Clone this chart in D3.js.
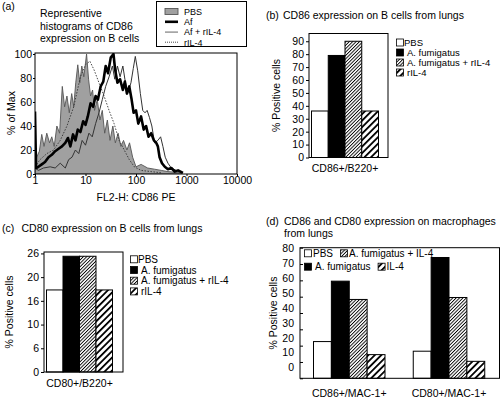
<!DOCTYPE html>
<html><head><meta charset="utf-8">
<script src="https://cdn.jsdelivr.net/npm/d3@7"></script>
<style>
html,body{margin:0;padding:0;background:#fff;}
svg{display:block;}
svg text{font-family:"Liberation Sans",Arial,Helvetica,sans-serif;}
</style></head><body>
<svg id="fig" width="501" height="400"></svg>
<script>
// ---------- Panel (a) data: [FL2-H intensity, % of Max] ----------
const histNames = ["PBS", "Af", "Af + rIL-4", "rIL-4"];
const histPBS = [[1,3],[1.08,14],[1.22,19],[1.36,33],[1.51,23],[1.71,34],[1.94,26],[2.15,31],[2.4,23],[2.71,40],[3.07,34],[3.47,73],[3.86,56],[4.29,65],[4.78,51],[5.33,67],[5.84,56],[6.41,76],[7.03,91],[7.7,76],[8.45,90],[9.26,81],[10.5,100],[11.5,79],[12.6,65],[13.8,70],[15.1,53],[17.1,62],[19.3,45],[21.5,53],[24,34],[27.1,45],[30.6,28],[34.8,40],[39,26],[44.2,34],[50.1,23],[56.6,28],[66.1,20],[74.5,26],[85.8,14],[100,6],[126,8],[170,5],[233,4],[316,3],[429,2],[794,1]];
const histAf = [[1,52],[1.05,5],[1.17,6],[1.36,8],[1.58,10],[1.85,14],[2.15,16],[2.51,19],[2.93,21],[3.42,23],[3.98,26],[4.5,30],[5.01,23],[5.67,33],[6.31,28],[7.03,37],[7.94,35],[8.98,44],[10,41],[11.1,48],[12.6,59],[14.2,56],[15.85,65],[17.6,62],[19.95,73],[22.5,77],[25.1,90],[27.9,84],[31.6,97],[35.8,100],[38.6,87],[42.9,76],[48.4,79],[54.9,70],[60.3,77],[66.1,67],[73.6,73],[81.9,62],[89.7,51],[100,53],[111,42],[126,48],[142,37],[158.5,40],[177,31],[200,34],[226,28],[251,26],[271,23],[293,14],[327,9],[372,6],[429,4],[501,5],[584,2],[681,3],[851,1]];
const histAfIL4 = [[1,5],[1.17,3],[1.47,5],[2,6],[2.51,5],[3.16,9],[3.98,5],[4.64,12],[5.41,14],[6.31,20],[7.36,17],[8.58,28],[10,24],[11.7,34],[13.6,31],[15.85,42],[18.5,51],[21.5,62],[25.1,73],[29.3,81],[34.1,90],[38,79],[42.9,90],[48.4,81],[54.9,90],[60.3,79],[68.1,67],[79.4,76],[88.4,88],[96.9,98],[108,86],[122,67],[136,53],[151,51],[166,53],[185,47],[206,40],[233,26],[271,28],[307,31],[341,23],[379,14],[429,9],[501,5],[631,3],[851,1]];
const histIL4 = [[1,6],[1.26,12],[1.71,17],[2.33,20],[3.16,28],[4.29,40],[5.84,56],[7.94,81],[10,91],[12.2,94],[14.7,87],[18.5,76],[23.3,65],[29.3,53],[36.8,42],[46.4,28],[58.5,20],[73.6,12],[92.6,6],[126,3],[200,2],[316,1]];
const histXTicks = [1, 10, 100, 1000, 10000];
const histYTicks = [0, 20, 40, 60, 80, 100];

// ---------- Panels (b), (c) ----------
const bcGroups = ["PBS", "A. fumigatus", "A. fumigatus + rIL-4", "rIL-4"];
const panelBCategories = ["CD86+/B220+"];
const panelBValues = [36, 79, 90, 36];
const panelBTicks = [0, 10, 20, 30, 40, 50, 60, 70, 80, 90];
const panelCCategories = ["CD80+/B220+"];
const panelCValues = [17.3, 24.4, 24.4, 17.3];
const panelCTickValues = [0, 5, 10, 15, 20, 25];
const panelCTickLabels = ["0", "6", "10", "16", "20", "26"];

// ---------- Panel (d) ----------
const dGroups = ["PBS", "A. fumigatus", "A. fumigatus + IL-4", "IL-4"];
const panelDCategories = ["CD86+/MAC-1+", "CD80+/MAC-1+"];
const panelDPBS = [22.5, 16.6];
const panelDAf = [59.5, 74];
const panelDAfIL4 = [48.3, 49.5];
const panelDIL4 = [14.5, 10.4];
const panelDTicks = [0, 10, 20, 30, 40, 50, 60, 70, 80];

const FS = 10.5;
const FONT = '"Liberation Sans", Arial, Helvetica, sans-serif';
const svg = d3.select("#fig");
const defs = svg.append("defs");
function hatch(id, w, sw) {
  const p = defs.append("pattern").attr("id", id).attr("patternUnits", "userSpaceOnUse")
    .attr("width", w).attr("height", w).attr("patternTransform", "rotate(45)");
  p.append("rect").attr("width", w).attr("height", w).attr("fill", "#fff");
  p.append("rect").attr("x", 0).attr("y", 0).attr("width", sw).attr("height", w).attr("fill", "#000");
}
hatch("hatchFine", 2.4, 0.9);
hatch("hatchWide", 4.6, 1.8);
const fills = ["#fff", "#000", "url(#hatchFine)", "url(#hatchWide)"];

function txt(x, y, s, opts = {}) {
  const t = svg.append("text").attr("x", x).attr("y", y).text(s)
    .attr("font-family", FONT).attr("font-size", opts.size || FS).attr("fill", "#000");
  if (opts.anchor) t.attr("text-anchor", opts.anchor);
  if (opts.rotate) t.attr("transform", `rotate(-90,${x},${y})`);
  return t;
}

// ================= Panel (a) =================
const aBox = {left: 35, right: 237, top: 53, bottom: 174};
const xA = d3.scaleLog().domain([1, 10000]).range([aBox.left, aBox.right]);
const yA = d3.scaleLinear().domain([0, 100]).range([aBox.bottom, aBox.top + 1]);
defs.append("clipPath").attr("id", "clipA").append("rect")
  .attr("x", aBox.left).attr("y", aBox.top).attr("width", aBox.right - aBox.left).attr("height", aBox.bottom - aBox.top);
const gA = svg.append("g").attr("clip-path", "url(#clipA)");
gA.append("path").datum(histPBS)
  .attr("d", d3.area().x(d => xA(d[0])).y0(yA(0)).y1(d => yA(d[1])))
  .attr("fill", "#a0a0a0").attr("stroke", "#555").attr("stroke-width", 0.9);
const lineA = d3.line().x(d => xA(d[0])).y(d => yA(d[1]));
gA.append("path").datum(histIL4).attr("d", lineA).attr("fill", "none")
  .attr("stroke", "#333").attr("stroke-width", 0.9).attr("stroke-dasharray", "1.5,1.5");
gA.append("path").datum(histAfIL4).attr("d", lineA).attr("fill", "none")
  .attr("stroke", "#333").attr("stroke-width", 1);
gA.append("path").datum(histAf).attr("d", lineA).attr("fill", "none")
  .attr("stroke", "#000").attr("stroke-width", 2.6).attr("stroke-linejoin", "round");
svg.append("rect").attr("x", aBox.left).attr("y", aBox.top).attr("width", aBox.right - aBox.left)
  .attr("height", aBox.bottom - aBox.top).attr("fill", "none").attr("stroke", "#000").attr("stroke-width", 1);
const axA = svg.append("g").attr("transform", `translate(0,${aBox.bottom})`)
  .call(d3.axisBottom(xA).tickValues(histXTicks).tickFormat(d3.format("d")).tickSize(2).tickPadding(1));
const ayA = svg.append("g").attr("transform", `translate(${aBox.left},0)`)
  .call(d3.axisLeft(yA).tickValues(histYTicks).tickSize(2).tickPadding(1));
[axA, ayA].forEach(g => {
  g.select(".domain").remove();
  g.attr("font-family", FONT);
  g.selectAll("text").attr("font-size", FS).attr("font-family", FONT).attr("fill", "#000");
  g.selectAll("line").attr("stroke", "#000");
});
txt(2, 10, "(a)");
txt(40, 17, "Representive");
txt(40, 29.5, "histograms of CD86");
txt(40, 42, "expression on B cells");
txt(136, 201, "FL2-H: CD86 PE", {anchor: "middle"});
txt(15, 113, "% of Max", {anchor: "middle", rotate: true});
// legend (a)
svg.append("rect").attr("x", 156.5).attr("y", 1.5).attr("width", 90).attr("height", 45)
  .attr("fill", "#fff").attr("stroke", "#000").attr("stroke-width", 1);
const legAY = [11.5, 21.8, 32.1, 42.2];
svg.append("rect").attr("x", 165).attr("y", legAY[0] - 3).attr("width", 13).attr("height", 6)
  .attr("fill", "#a0a0a0").attr("stroke", "#555").attr("stroke-width", 0.9);
svg.append("line").attr("x1", 165).attr("x2", 178).attr("y1", legAY[1]).attr("y2", legAY[1]).attr("stroke", "#000").attr("stroke-width", 2.6);
svg.append("line").attr("x1", 165).attr("x2", 178).attr("y1", legAY[2]).attr("y2", legAY[2]).attr("stroke", "#888").attr("stroke-width", 1.3);
svg.append("line").attr("x1", 165).attr("x2", 178).attr("y1", legAY[3]).attr("y2", legAY[3]).attr("stroke", "#333").attr("stroke-width", 0.9).attr("stroke-dasharray", "1,1");
histNames.forEach((n, i) => txt(184, legAY[i] + 3.3, n, {size: 9}));

// ================= Bar panels =================
function barPanel(cfg) {
  const y = d3.scaleLinear().domain(cfg.yDomain).range([cfg.box.bottom, cfg.box.top]);
  const x0 = d3.scaleBand().domain(cfg.categories).range([cfg.box.left, cfg.box.right]);
  const x1 = d3.scaleBand().domain(cfg.groups).range(cfg.inner);
  const g = svg.append("g");
  cfg.categories.forEach((c, ci) => {
    cfg.groups.forEach((gn, gi) => {
      const v = cfg.series[gi][ci];
      g.append("rect").attr("x", x0(c) + x1(gn)).attr("y", y(v))
        .attr("width", x1.bandwidth()).attr("height", y(0) - y(v))
        .attr("fill", fills[gi]).attr("stroke", "#000").attr("stroke-width", 1);
    });
    txt(x0(c) + (cfg.inner[0] + cfg.inner[1]) / 2, cfg.catLabelY, c, {anchor: "middle"});
  });
  g.append("rect").attr("x", cfg.box.left).attr("y", cfg.box.top)
    .attr("width", cfg.box.right - cfg.box.left).attr("height", cfg.box.bottom - cfg.box.top)
    .attr("fill", "none").attr("stroke", "#000").attr("stroke-width", 1);
  const ax = svg.append("g").attr("transform", `translate(${cfg.box.left},0)`)
    .call(d3.axisLeft(y).tickValues(cfg.ticks).tickSize(cfg.tickSize).tickPadding(cfg.tickPad)
      .tickFormat((d, i) => cfg.tickLabels ? cfg.tickLabels[i] : d));
  ax.select(".domain").remove();
  ax.attr("font-family", FONT);
  ax.selectAll("line").attr("stroke", "#000");
  ax.selectAll("text").attr("font-size", FS).attr("font-family", FONT).attr("fill", "#000");
  if (cfg.labelScale) {
    ax.selectAll("text").attr("transform", d => `translate(0,${cfg.labelScale(d) - y(d)})`);
  }
  txt(cfg.yTitleX, (cfg.box.top + cfg.box.bottom) / 2, "% Positive cells", {anchor: "middle", rotate: true});
  return {x0, x1, y};
}
function legendCol(x, ys, groups, size) {
  groups.forEach((n, i) => {
    svg.append("rect").attr("x", x + 0.5).attr("y", ys[i] - 3.5).attr("width", 7).attr("height", 7)
      .attr("fill", fills[i]).attr("stroke", "#000").attr("stroke-width", 0.8);
    txt(x + (i === 0 ? 8 : 11), ys[i] + 3.6, n, {size: size});
  });
}

// (b)
txt(266, 18.5, "(b)");
txt(283, 18.5, "CD86 expression on B cells from lungs");
barPanel({
  box: {left: 309, right: 388, top: 33.5, bottom: 157.5}, yDomain: [0, 96],
  categories: panelBCategories, groups: bcGroups, inner: [2.5, 69.5],
  series: panelBValues.map(v => [v]), ticks: panelBTicks, tickSize: 3, tickPad: 2,
  catLabelY: 172, yTitleX: 280
});
legendCol(396, [42.5, 52.5, 62.5, 72.5], bcGroups, 9.5);

// (c)
txt(2, 232, "(c)");
txt(21.5, 232, "CD80 expression on B cells from lungs");
barPanel({
  box: {left: 44, right: 123, top: 252, bottom: 372}, yDomain: [0, 25.3],
  categories: panelCCategories, groups: bcGroups, inner: [2.5, 68.5],
  series: panelCValues.map(v => [v]), ticks: panelCTickValues, tickLabels: panelCTickLabels,
  tickSize: 3, tickPad: 2, catLabelY: 386.5, yTitleX: 13
});
legendCol(130, [259.3, 270, 280.7, 291.4], bcGroups, 10);

// (d)
txt(266, 225, "(d)");
txt(284, 225, "CD86 and CD80 expression on macrophages");
txt(284, 237.3, "from lungs");
barPanel({
  box: {left: 300, right: 499.5, top: 247.7, bottom: 378.3}, yDomain: [0, 80],
  categories: panelDCategories, groups: dGroups, inner: [13.5, 85],
  series: [panelDPBS, panelDAf, panelDAfIL4, panelDIL4], ticks: panelDTicks,
  tickSize: -3, tickPad: 6, catLabelY: 397, yTitleX: 277,
  labelScale: d3.scaleLinear().domain([0, 80]).range([367.5, 248])
});
// legend (d) flowing inside the plot
(function () {
  const rows = [[0, 2], [1, 3]];
  const rowY = [253.3, 266.7];
  rows.forEach((r, ri) => {
    let x = 304;
    r.forEach(gi => {
      svg.append("rect").attr("x", x + 0.5).attr("y", rowY[ri] - 3.5).attr("width", 7).attr("height", 7)
        .attr("fill", fills[gi]).attr("stroke", "#000").attr("stroke-width", 0.8);
      const t = txt(x + (gi === 1 ? 11 : 9), rowY[ri] + 3.7, dGroups[gi], {size: 10});
      x = x + (gi === 1 ? 11 : 9) + t.node().getComputedTextLength() + 7;
    });
  });
})();
</script>
</body></html>
